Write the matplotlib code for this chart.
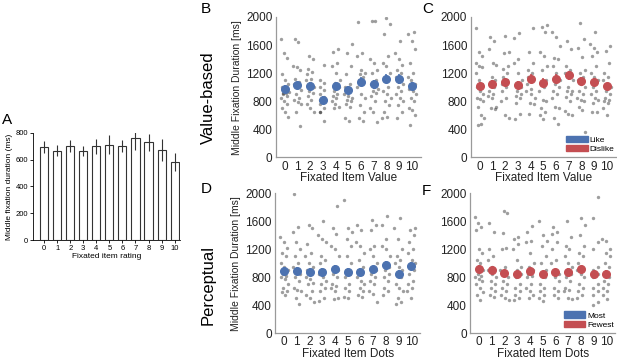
import matplotlib.pyplot as plt
import numpy as np
from matplotlib.patches import Patch

plt.rcParams['font.family'] = ['Liberation Sans', 'DejaVu Sans']

# painel A - barras
ratings = list(range(11))
bar_vals = [694, 668, 701, 663, 701, 711, 701, 765, 729, 673, 582]
bar_err = [45, 43, 43, 36, 56, 71, 43, 91, 66, 81, 66]

cats = list(range(11))

# painel B - value-based, like (azul)
mean_b = [970, 1030, 1020, 820, 1020, 960, 1080, 1040, 1120, 1110, 1020]
sem_b = [60, 45, 50, 50, 55, 60, 70, 65, 60, 70, 60]
pts_b = [
    [1680, 1480, 1420, 1190, 1100, 1050, 1000, 950, 930, 900, 880, 850, 800, 760, 700, 650, 570, 920, 910],
    [1680, 1640, 1300, 1280, 1250, 1120, 1080, 1040, 1000, 960, 900, 850, 820, 790, 760, 640, 450],
    [1450, 1400, 1260, 1220, 1180, 1120, 1100, 1060, 1000, 950, 920, 880, 820, 760, 700, 640],
    [1320, 1100, 1060, 1000, 960, 900, 860, 820, 800, 760, 700, 640, 520, 650],
    [1540, 1500, 1350, 1300, 1200, 1100, 1060, 1000, 950, 900, 880, 850, 800, 760, 720, 700],
    [1620, 1480, 1300, 1180, 1050, 1000, 940, 900, 880, 850, 820, 800, 760, 720, 560, 520],
    [1930, 1480, 1450, 1250, 1200, 1180, 1150, 1100, 1050, 1000, 900, 850, 750, 640, 560, 520],
    [1940, 1940, 1400, 1350, 1250, 1200, 1100, 1050, 1000, 980, 950, 920, 880, 800, 700, 650, 500],
    [1990, 1900, 1760, 1450, 1350, 1300, 1200, 1100, 1000, 950, 900, 850, 800, 750, 650, 580, 560],
    [1650, 1480, 1400, 1320, 1250, 1200, 1150, 1100, 1050, 1000, 950, 900, 850, 800, 750, 650, 560],
    [1780, 1750, 1660, 1550, 1350, 1200, 1150, 1100, 1050, 980, 950, 900, 850, 800, 700, 680, 600, 460],
]

# painel C - value-based, dislike (vermelho)
mean_c = [1020, 1050, 1070, 1030, 1120, 1060, 1120, 1170, 1090, 1070, 1010]
sem_c = [55, 50, 55, 55, 60, 65, 60, 65, 60, 55, 50]
pts_c = [
    [1840, 1500, 1450, 1340, 1300, 1280, 1200, 1100, 1050, 1000, 950, 900, 850, 830, 800, 720, 600, 560, 460, 480],
    [1720, 1650, 1540, 1340, 1320, 1150, 1100, 1050, 1000, 950, 900, 880, 840, 720, 700, 690],
    [1730, 1500, 1480, 1300, 1260, 1200, 1140, 1100, 1050, 1000, 950, 850, 800, 600, 560],
    [1770, 1700, 1400, 1350, 1200, 1100, 1050, 1000, 950, 900, 880, 850, 770, 620, 540],
    [1840, 1500, 1350, 1250, 1200, 1150, 1100, 1050, 980, 950, 900, 850, 780, 760, 620],
    [1880, 1850, 1780, 1500, 1450, 1300, 1250, 1100, 1050, 1000, 950, 820, 800, 700, 650, 600, 550],
    [1780, 1720, 1580, 1420, 1400, 1300, 1200, 1100, 1050, 1000, 950, 900, 850, 720, 700, 560, 480],
    [1650, 1550, 1300, 1250, 1200, 1150, 1100, 1000, 950, 940, 900, 860, 800, 660, 620, 600],
    [1920, 1680, 1560, 1430, 1250, 1200, 1150, 1100, 1050, 1000, 950, 900, 850, 820, 800, 720, 680, 360],
    [1780, 1620, 1560, 1500, 1450, 1300, 1200, 1150, 1100, 1000, 950, 900, 850, 820, 780, 650, 640],
    [1580, 1520, 1350, 1200, 1150, 1100, 1050, 1000, 950, 900, 850, 820, 800, 780, 700, 600],
]

# painel D - perceptual, most (azul)
mean_d = [890, 890, 880, 880, 920, 880, 880, 910, 980, 850, 960]
sem_d = [50, 50, 45, 45, 55, 55, 50, 55, 55, 50, 50]
pts_d = [
    [1380, 1300, 1220, 1150, 1100, 1000, 950, 900, 850, 820, 800, 780, 700, 650, 600, 580, 550],
    [1990, 1520, 1450, 1300, 1200, 1100, 1000, 950, 900, 850, 800, 750, 650, 620, 600, 500, 420],
    [1550, 1500, 1280, 1150, 1100, 1000, 950, 900, 850, 800, 780, 720, 700, 600, 550, 500, 440],
    [1600, 1400, 1350, 1300, 1100, 1050, 1000, 900, 850, 800, 750, 700, 650, 600, 500, 460],
    [1820, 1500, 1420, 1250, 1200, 1100, 950, 900, 850, 800, 700, 680, 650, 600, 500, 480],
    [1900, 1500, 1450, 1350, 1250, 1100, 1000, 900, 850, 800, 700, 650, 600, 520, 500],
    [1550, 1480, 1300, 1250, 1150, 1050, 950, 900, 850, 800, 750, 700, 650, 600, 550, 520],
    [1620, 1550, 1480, 1250, 1200, 1100, 1000, 950, 900, 850, 800, 750, 700, 600, 560, 450],
    [1680, 1550, 1350, 1250, 1200, 1100, 1000, 950, 900, 850, 800, 750, 650, 600, 550],
    [1640, 1500, 1350, 1200, 1100, 1050, 1000, 950, 900, 850, 800, 700, 650, 600, 500, 450, 420],
    [1500, 1480, 1400, 1300, 1200, 1150, 1050, 1000, 950, 900, 850, 750, 700, 650, 600, 500],
]

# painel F - perceptual, fewest (vermelho)
mean_f = [920, 900, 860, 840, 890, 840, 870, 880, 910, 850, 850]
sem_f = [50, 50, 45, 45, 50, 45, 50, 50, 55, 50, 45]
pts_f = [
    [1660, 1580, 1520, 1480, 1200, 1150, 1050, 1000, 900, 850, 820, 800, 780, 750, 700, 650, 580, 540, 470],
    [1580, 1440, 1200, 1100, 1050, 950, 900, 850, 800, 750, 700, 650, 600, 550, 520],
    [1750, 1720, 1430, 1220, 1200, 950, 900, 850, 800, 750, 700, 650, 600, 550, 500, 470],
    [1380, 1350, 1280, 1200, 1050, 950, 900, 850, 800, 700, 650, 600, 550, 500, 470],
    [1530, 1450, 1320, 1300, 1150, 1000, 950, 900, 850, 820, 800, 700, 650, 600, 550, 500],
    [1600, 1400, 1320, 1250, 1100, 1000, 900, 850, 800, 700, 650, 600, 550, 500, 460],
    [1520, 1450, 1420, 1300, 1200, 1050, 1000, 900, 850, 800, 750, 650, 600, 550, 500],
    [1600, 1380, 1250, 1200, 1100, 1000, 950, 900, 850, 800, 750, 650, 620, 600, 500, 480],
    [1650, 1550, 1400, 1250, 1150, 1100, 1000, 950, 900, 850, 800, 700, 650, 600, 550, 500],
    [1950, 1650, 1300, 1200, 950, 900, 850, 800, 700, 650, 600, 550, 450, 400],
    [1350, 1320, 1200, 1150, 1100, 1000, 950, 850, 800, 750, 700, 650, 600, 550, 480],
]

azul = '#4c72b0'
vermelho = '#c44e52'
cinza_eixo = '#9a9a9a'

fig = plt.figure(figsize=(6.17, 3.6), dpi=100)


# grafico de barras do painel A
axA = fig.add_axes([0.0535, 0.333, 0.238, 0.298])
axA.bar(ratings, bar_vals, width=0.62, color='white', edgecolor='#333333', linewidth=0.8)
axA.errorbar(ratings, bar_vals, yerr=bar_err, fmt='none', ecolor='#333333', elinewidth=0.8, capsize=0)
axA.set_xlim(-0.85, 10.4)
axA.set_ylim(0, 800)
axA.set_yticks([0, 200, 400, 600, 800])
axA.set_xticks(ratings)
axA.tick_params(labelsize=5.5, length=2, width=0.6, pad=1.5)
for s in ['top', 'right']:
    axA.spines[s].set_visible(False)
for s in ['left', 'bottom']:
    axA.spines[s].set_linewidth(0.6)
axA.set_xlabel('Fixated item rating', fontsize=6, labelpad=1)
axA.set_ylabel('Middle fixation duration (ms)', fontsize=6, labelpad=2)
fig.text(0.003, 0.655, 'A', fontsize=11)


def painel_pontos(ax, pts, medias, erros, cor, xlabel, ylabel=None):
    for j, vals in enumerate(pts):
        n = len(vals)
        offs = (((np.arange(n) * 7 + j * 3) % n) / (n - 1) - 0.5) * 0.64
        ax.scatter(j + offs, vals, s=6, color='black', alpha=0.38, linewidths=0, zorder=2)
    ax.errorbar(cats, medias, yerr=erros, fmt='o', color=cor, ms=5.5, elinewidth=1.2,
                capsize=0, zorder=3)
    ax.set_xlim(-0.7, 10.7)
    ax.set_ylim(0, 2000)
    ax.set_yticks([0, 400, 800, 1200, 1600, 2000])
    ax.set_xticks(cats)
    ax.tick_params(labelsize=8.5, length=0, pad=2.5, colors='#222222')
    for s in ['top', 'right']:
        ax.spines[s].set_visible(False)
    for s in ['left', 'bottom']:
        ax.spines[s].set_color(cinza_eixo)
        ax.spines[s].set_linewidth(0.9)
    ax.set_xlabel(xlabel, fontsize=8.5, labelpad=-0.5, color='#222222')
    if ylabel:
        ax.set_ylabel(ylabel, fontsize=7.5, labelpad=3, color='#222222')


axB = fig.add_axes([0.447, 0.563, 0.235, 0.39])
painel_pontos(axB, pts_b, mean_b, sem_b, azul, 'Fixated Item Value', 'Middle Fixation Duration [ms]')
axC = fig.add_axes([0.763, 0.563, 0.235, 0.39])
painel_pontos(axC, pts_c, mean_c, sem_c, vermelho, 'Fixated Item Value')
axD = fig.add_axes([0.446, 0.075, 0.235, 0.388])
painel_pontos(axD, pts_d, mean_d, sem_d, azul, 'Fixated Item Dots', 'Middle Fixation Duration [ms]')
axF = fig.add_axes([0.762, 0.075, 0.235, 0.388])
painel_pontos(axF, pts_f, mean_f, sem_f, vermelho, 'Fixated Item Dots')

# legendas
for ax, nomes in [(axC, ['Like', 'Dislike']), (axF, ['Most', 'Fewest'])]:
    handles = [Patch(color=azul), Patch(color=vermelho)]
    ax.legend(handles, nomes, loc='lower right', fontsize=6, frameon=False,
              handlelength=2.6, handleheight=0.8, handletextpad=0.2, labelspacing=0.15,
              borderaxespad=0.1, bbox_to_anchor=(1.02, 0.0))

# letras dos paineis e rotulos das linhas
fig.text(0.326, 0.965, 'B', fontsize=11)
fig.text(0.684, 0.965, 'C', fontsize=11)
fig.text(0.326, 0.465, 'D', fontsize=11)
fig.text(0.684, 0.458, 'F', fontsize=11)
fig.text(0.337, 0.73, 'Value-based', fontsize=12, rotation=90, ha='center', va='center')
fig.text(0.337, 0.208, 'Perceptual', fontsize=12, rotation=90, ha='center', va='center')

fig.savefig('out.png', dpi=100)
